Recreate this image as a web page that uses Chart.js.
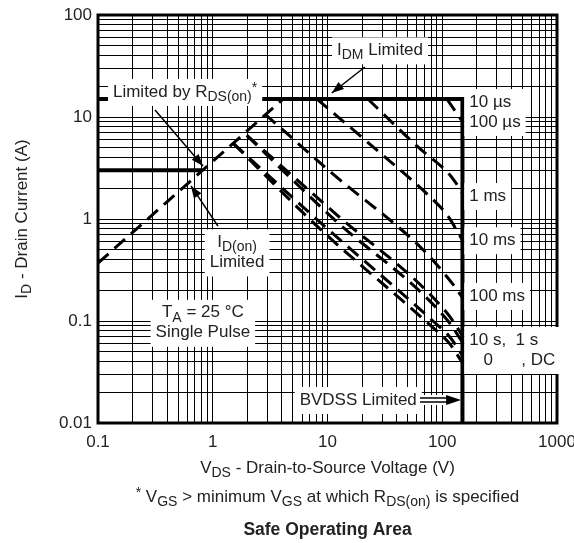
<!DOCTYPE html>
<html>
<head>
<meta charset="utf-8">
<script src="https://cdn.jsdelivr.net/npm/chart.js@4.4.0/dist/chart.umd.min.js"></script>
<style>
html, body { margin: 0; padding: 0; background: #fff; }
#wrap { width: 574px; height: 543px; }
</style>
</head>
<body>
<div id="wrap"><canvas id="soaChart" width="574" height="543"></canvas></div>
<script>
// decades shown on each axis and their labels
const xMajorTicks = [0.1, 1, 10, 100, 1000];
const xTickLabels = ['0.1', '1', '10', '100', '1000'];
const yMajorTicks = [0.01, 0.1, 1, 10, 100];
const yTickLabels = ['0.01', '0.1', '1', '10', '100'];

// limit lines: V (volts) / I (amps)
const limitV = [0.1, 150, 150];      // IDM limit + BVDSS
const limitI = [15, 15, 0.01];
const idOnV = [0.1, 0.81];           // ID(on) limit
const idOnI = [3, 3];
const rdsV = [0.1, 4.1];             // RDS(on) limit
const rdsI = [0.37, 15];

// pulse width curves
const t100usV = [110, 150];
const t100usI = [15, 9];
const t1msV = [22.5, 60, 120, 150];
const t1msI = [15, 5.2, 2.6, 1.8];
const t10msV = [8.1, 26, 83, 110, 150];
const t10msI = [15, 4.9, 1.55, 1.1, 0.62];
const t100msV = [2.85, 11, 68, 120, 150];
const t100msI = [10.7, 2.8, 0.5, 0.24, 0.17];
const t1sV = [1.98, 11, 110, 150];
const t1sI = [6.6, 1.2, 0.12, 0.072];
const t10sV = [1.98, 11, 110, 150];
const t10sI = [6.6, 1.03, 0.103, 0.062];
const t100sV = [1.51, 8.6, 83, 116, 150];
const t100sI = [5.5, 0.93, 0.1, 0.07, 0.046];
const tDcV = [1.51, 8.6, 83, 116, 150];
const tDcI = [5.5, 0.8, 0.086, 0.06, 0.039];

// text notes, anchored in data units (V, A)
const notes = [
  { lines: ['I_{DM} Limited'], x: 12.1, y: 45, align: 'left' },
  { lines: ['Limited by R_{DS(on)}^{*}'], x: 0.135, y: 17.6, align: 'left' },
  { lines: ['I_{D(on)}', 'Limited'], x: 1.63, y: 0.47, align: 'center' },
  { lines: ['T_{A} = 25 \u00B0C', 'Single Pulse'], x: 0.82, y: 0.096, align: 'center' },
  { lines: ['10 \u00B5s', '100 \u00B5s'], x: 172, y: 11.2, align: 'left' },
  { lines: ['1 ms'], x: 172, y: 1.68, align: 'left' },
  { lines: ['10 ms'], x: 172, y: 0.62, align: 'left' },
  { lines: ['100 ms'], x: 172, y: 0.176, align: 'left' },
  { lines: ['10 s,  1 s', '   0      , DC'], x: 172, y: 0.052, align: 'left' },
  { lines: ['BVDSS Limited'], x: 60, y: 0.0168, align: 'right' }
];
const arrows = [
  { from: [21.2, 30.9], to: [10.9, 17.2] },
  { from: [0.314, 11.7], to: [0.822, 3.31] },
  { from: [1.11, 0.853], to: [0.646, 2.11] },
  { from: [64, 0.0168], to: [146, 0.0168], double: true }
];

const FONT = '"Liberation Sans", Arial, sans-serif';
const TEXT = '#222';

function pts(xs, ys) {
  return xs.map((v, i) => ({ x: v, y: ys[i] }));
}

function decadeTicks(majors) {
  const out = [];
  for (let i = 0; i < majors.length - 1; i++) {
    for (let k = 1; k <= 9; k++) out.push(majors[i] * k);
  }
  out.push(majors[majors.length - 1]);
  return out;
}

function majorLabel(v, majors, labels) {
  const i = majors.findIndex(m => Math.abs(v / m - 1) < 1e-6);
  return i >= 0 ? labels[i] : '';
}

// text with _{sub} and ^{sup}
function richParts(str) {
  const out = [];
  const re = /([_^])\{([^}]*)\}/g;
  let last = 0, m;
  while ((m = re.exec(str)) !== null) {
    if (m.index > last) out.push({ t: str.slice(last, m.index), k: 0 });
    out.push({ t: m[2], k: m[1] === '_' ? 1 : -1 });
    last = re.lastIndex;
  }
  if (last < str.length) out.push({ t: str.slice(last), k: 0 });
  return out;
}
function fontFor(size, k, bold) {
  const s = k === 0 ? size : Math.round(size * 0.8);
  return (bold ? 'bold ' : '') + s + 'px ' + FONT;
}
function richWidth(ctx, str, size, bold) {
  let w = 0;
  richParts(str).forEach(p => {
    ctx.font = fontFor(size, p.k, bold);
    w += ctx.measureText(p.t).width;
  });
  return w;
}
function drawRich(ctx, str, x, y, align, size, bold) {
  const w = richWidth(ctx, str, size, bold);
  let cx = align === 'center' ? x - w / 2 : (align === 'right' ? x - w : x);
  ctx.textAlign = 'left';
  ctx.textBaseline = 'middle';
  ctx.fillStyle = TEXT;
  richParts(str).forEach(p => {
    ctx.font = fontFor(size, p.k, bold);
    const dy = p.k === 1 ? size * 0.3 : (p.k === -1 ? -size * 0.22 : 0);
    ctx.fillText(p.t, cx, y + dy);
    cx += ctx.measureText(p.t).width;
  });
}

function arrowHead(ctx, x0, y0, x1, y1, len, half) {
  const a = Math.atan2(y1 - y0, x1 - x0);
  ctx.beginPath();
  ctx.moveTo(x1, y1);
  ctx.lineTo(x1 - len * Math.cos(a) + half * Math.sin(a), y1 - len * Math.sin(a) - half * Math.cos(a));
  ctx.lineTo(x1 - len * Math.cos(a) - half * Math.sin(a), y1 - len * Math.sin(a) + half * Math.cos(a));
  ctx.closePath();
  ctx.fill();
}

const notesPlugin = {
  id: 'notes',
  afterDatasetsDraw(chart) {
    const ctx = chart.ctx;
    const xs = chart.scales.x, ys = chart.scales.y;
    const a = chart.chartArea;
    ctx.save();
    // frame
    ctx.strokeStyle = '#000';
    ctx.lineWidth = 3;
    ctx.strokeRect(a.left, a.top, a.right - a.left, a.bottom - a.top);

    // label boxes and text
    const size = 17, lh = 20;
    notes.forEach(n => {
      const px = xs.getPixelForValue(n.x);
      const py = ys.getPixelForValue(n.y);
      const widths = n.lines.map(l => richWidth(ctx, l, size, false));
      const w = Math.max(...widths);
      const h = n.lines.length * lh;
      let left = n.align === 'center' ? px - w / 2 : (n.align === 'right' ? px - w : px);
      ctx.fillStyle = '#fff';
      ctx.fillRect(left - 5, py - h / 2 - 3, w + 10, h + 7);
      n.lines.forEach((l, i) => {
        drawRich(ctx, l, px, py - h / 2 + lh * (i + 0.5), n.align, size, false);
      });
    });

    // arrows
    ctx.strokeStyle = '#000';
    ctx.fillStyle = '#000';
    arrows.forEach(ar => {
      const x0 = xs.getPixelForValue(ar.from[0]), y0 = ys.getPixelForValue(ar.from[1]);
      const x1 = xs.getPixelForValue(ar.to[0]), y1 = ys.getPixelForValue(ar.to[1]);
      ctx.lineWidth = 1.5;
      if (ar.double) {
        ctx.fillStyle = '#fff';
        ctx.fillRect(x0 - 2, y0 - 5, x1 - x0, 10);
        ctx.fillStyle = '#000';
        ctx.beginPath();
        ctx.moveTo(x0, y0 - 2); ctx.lineTo(x1 - 10, y0 - 2);
        ctx.moveTo(x0, y0 + 2); ctx.lineTo(x1 - 10, y0 + 2);
        ctx.stroke();
        arrowHead(ctx, x0, y0, x1, y1, 15, 5);
      } else {
        ctx.beginPath();
        ctx.moveTo(x0, y0);
        ctx.lineTo(x1, y1);
        ctx.stroke();
        arrowHead(ctx, x0, y0, x1, y1, 12, 4.5);
      }
    });
    ctx.restore();
  },
  afterDraw(chart) {
    const ctx = chart.ctx;
    const a = chart.chartArea;
    const cx = (a.left + a.right) / 2;
    ctx.save();
    drawRich(ctx, 'V_{DS} - Drain-to-Source Voltage (V)', cx, a.bottom + 45, 'center', 17, false);
    drawRich(ctx, '^{*} V_{GS} > minimum V_{GS} at which R_{DS(on)} is specified', cx, a.bottom + 74, 'center', 17, false);
    drawRich(ctx, 'Safe Operating Area', cx, a.bottom + 107, 'center', 17.5, true);
    ctx.translate(22, (a.top + a.bottom) / 2);
    ctx.rotate(-Math.PI / 2);
    drawRich(ctx, 'I_{D} - Drain Current (A)', 0, 0, 'center', 17, false);
    ctx.restore();
  }
};

const solid = { borderColor: '#000', backgroundColor: '#000', borderWidth: 4, pointRadius: 0, fill: false, showLine: true, borderJoinStyle: 'miter' };
const dashed = { borderColor: '#000', backgroundColor: '#000', borderWidth: 3, borderDash: [14, 8], pointRadius: 0, fill: false, showLine: true, cubicInterpolationMode: 'monotone' };

const ctx = document.getElementById('soaChart').getContext('2d');
const soaChart = new Chart(ctx, {
  type: 'scatter',
  data: {
    datasets: [
      Object.assign({ label: 'IDM / BVDSS', data: pts(limitV, limitI) }, solid),
      Object.assign({ label: 'ID(on)', data: pts(idOnV, idOnI) }, solid),
      Object.assign({ label: 'RDS(on)', data: pts(rdsV, rdsI) }, dashed),
      Object.assign({ label: '100 us', data: pts(t100usV, t100usI) }, dashed),
      Object.assign({ label: '1 ms', data: pts(t1msV, t1msI) }, dashed),
      Object.assign({ label: '10 ms', data: pts(t10msV, t10msI) }, dashed),
      Object.assign({ label: '100 ms', data: pts(t100msV, t100msI) }, dashed),
      Object.assign({ label: '1 s', data: pts(t1sV, t1sI) }, dashed),
      Object.assign({ label: '10 s', data: pts(t10sV, t10sI) }, dashed),
      Object.assign({ label: '100 s', data: pts(t100sV, t100sI) }, dashed),
      Object.assign({ label: 'DC', data: pts(tDcV, tDcI) }, dashed)
    ]
  },
  options: {
    responsive: false,
    animation: false,
    devicePixelRatio: 1,
    layout: { padding: { left: 0, right: 17, top: 15, bottom: 0 } },
    plugins: { legend: { display: false }, tooltip: { enabled: false } },
    scales: {
      x: {
        type: 'logarithmic',
        min: 0.1,
        max: 1000,
        afterBuildTicks: s => { s.ticks = decadeTicks(xMajorTicks).map(v => ({ value: v })); },
        afterFit: s => { s.height = 120; s.paddingLeft = 0; s.paddingRight = 0; },
        grid: { color: '#000', lineWidth: 1, drawTicks: false },
        border: { display: false },
        ticks: {
          autoSkip: false, maxRotation: 0, padding: 9, color: TEXT,
          font: { family: FONT, size: 17 },
          callback: v => majorLabel(v, xMajorTicks, xTickLabels)
        }
      },
      y: {
        type: 'logarithmic',
        min: 0.01,
        max: 100,
        afterBuildTicks: s => { s.ticks = decadeTicks(yMajorTicks).map(v => ({ value: v })); },
        afterFit: s => { s.width = 98; s.paddingTop = 0; s.paddingBottom = 0; },
        grid: { color: '#000', lineWidth: 1, drawTicks: false },
        border: { display: false },
        ticks: {
          autoSkip: false, padding: 6, color: TEXT,
          font: { family: FONT, size: 17 },
          callback: v => majorLabel(v, yMajorTicks, yTickLabels)
        }
      }
    }
  },
  plugins: [notesPlugin]
});
</script>
</body>
</html>
